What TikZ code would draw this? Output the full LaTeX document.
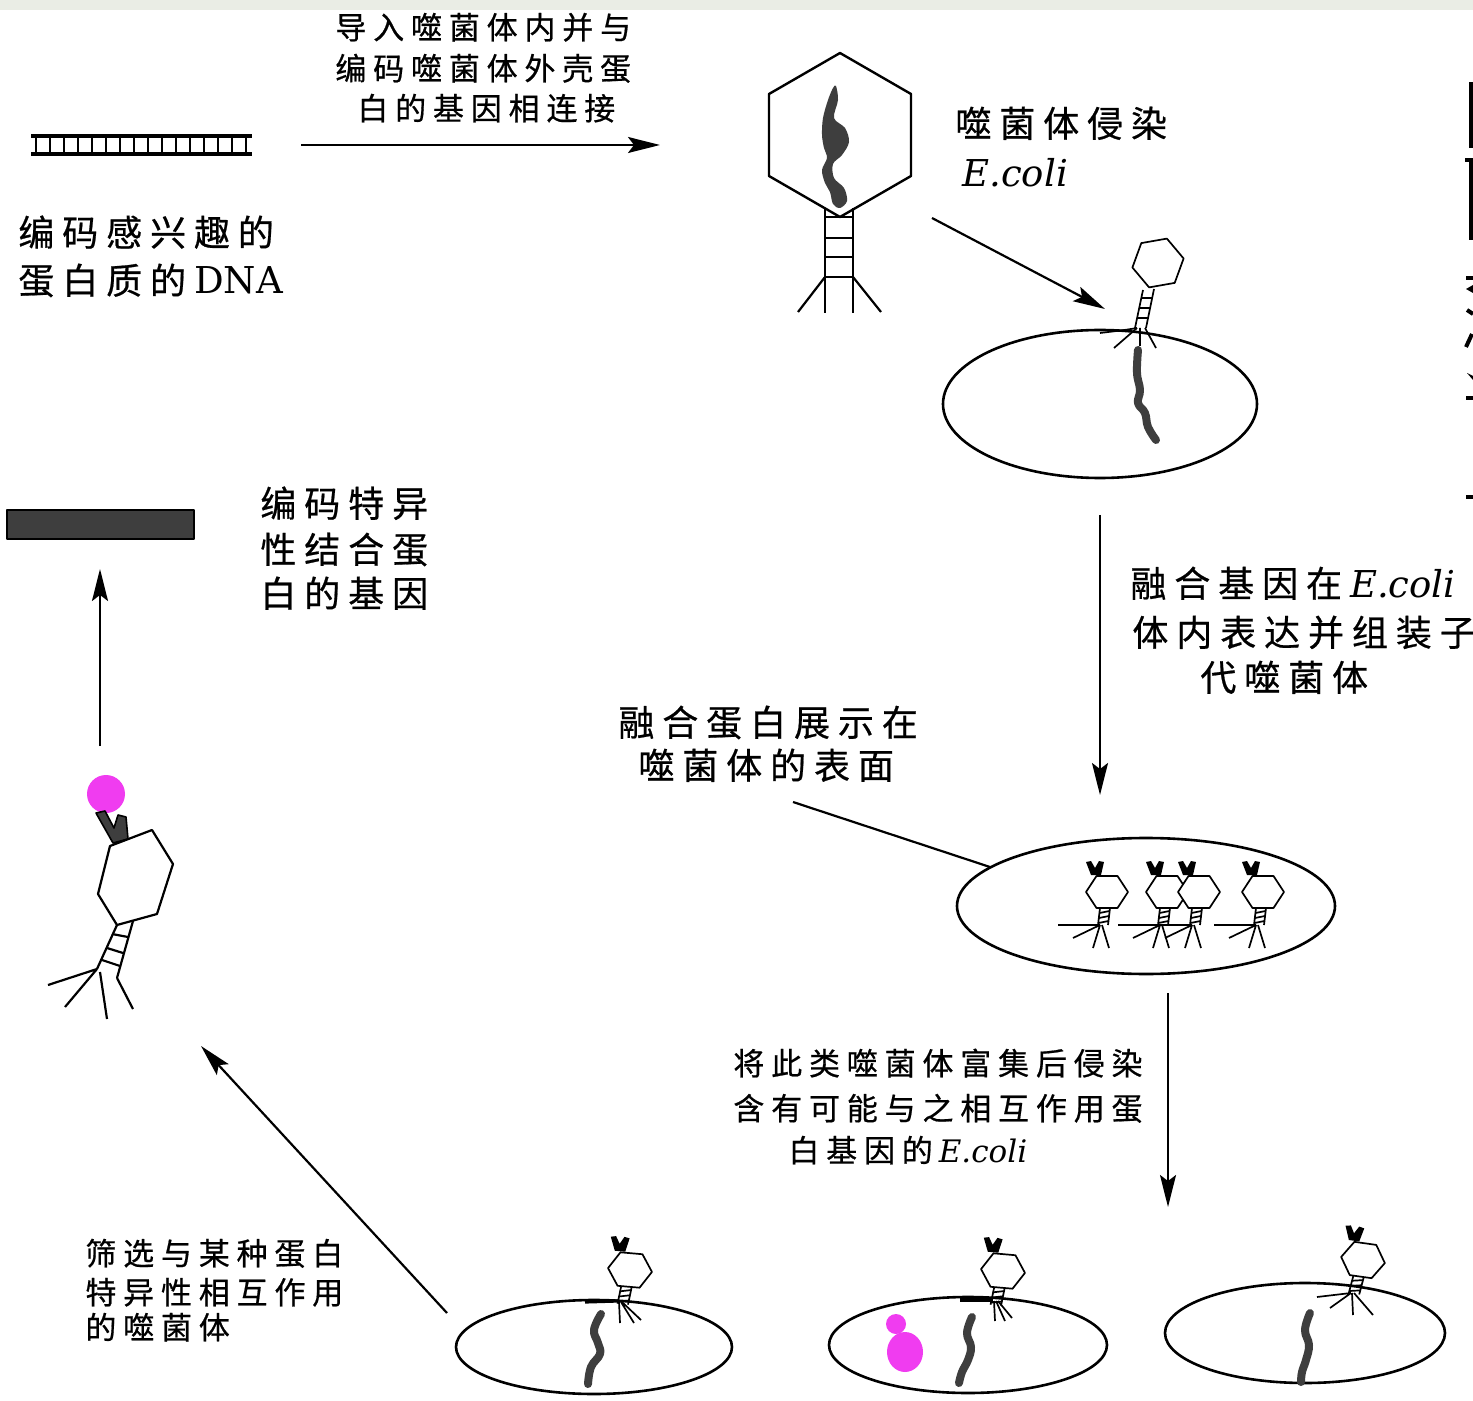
\documentclass[tikz,border=0pt]{standalone}
\usepackage{fontspec}
\setmainfont{DejaVu Serif}
\newfontfamily\cjk{Noto Sans CJK SC}[LetterSpace=22,FakeBold=0.6]
\usetikzlibrary{arrows.meta}
\definecolor{dnagray}{RGB}{62,62,62}
\definecolor{bindpink}{RGB}{240,60,240}
\definecolor{bandgray}{RGB}{234,237,229}
\newcommand\Ecoli{{\rmfamily\itshape E.coli}}

\tikzset{
  pics/phage/.style={code={
    \draw[phthin, fill=white] (21,0) -- (10.5,16) -- (-10.5,16) -- (-21,0) -- (-10.5,-16) -- (10.5,-16) -- cycle;
    \draw[phthin] (-7,16) -- (-9,33) (3,16) -- (1,33);
    \draw[phthin] (-7.5,21) -- (2.5,19) (-8,26) -- (2,24) (-8.5,31) -- (1.5,29);
    \fill[black] (-21,-30) -- (-16,-31) -- (-12,-24) -- (-8,-31) -- (-3,-30) -- (-6,-17) -- (-16,-17) -- cycle;
  }},
  pics/legs/.style={code={
    \draw[phthin] (-7,33) -- (-49,33) (-7,33) -- (-34,46) (-7,33) -- (-14,56) (-5,33) -- (2,56);
  }}
}

\begin{document}
\begin{tikzpicture}[x=0.5pt,y=-0.5pt,line join=round,
  ph/.style={draw=black,line width=1.1pt},
  phthin/.style={draw=black,line width=0.85pt},
  cell/.style={draw=black,line width=1.3pt},
  flow/.style={draw=black,line width=1.1pt,-{Stealth[length=16pt,width=8pt,inset=3pt]}},
  dnaline/.style={draw=dnagray,line width=4pt,line cap=round},
  labA/.style={anchor=base west,inner sep=0pt,font=\cjk\fontsize{18}{22}\selectfont},
  labB/.style={anchor=base west,inner sep=0pt,font=\cjk\fontsize{15.5}{19}\selectfont},
  frag/.style={draw=black,line width=2pt}]

\useasboundingbox (0,0) rectangle (1473,1401);
\fill[white] (0,0) rectangle (1473,1401);
% textured strip along the top edge
\fill[bandgray] (0,0) rectangle (1473,10);

% ---------- named anchor points ----------
\coordinate (dnaR) at (301,145);
\coordinate (phageL) at (660,145);
\coordinate (infS) at (932,218);
\coordinate (infE) at (1105,309);
\coordinate (cell1S) at (1100,515);
\coordinate (cell2N) at (1100,795);
\coordinate (tagS) at (793,802);
\coordinate (cell2W) at (990,867);
\coordinate (cell2S) at (1168,993);
\coordinate (rowN) at (1168,1207);
\coordinate (cell3W) at (447,1313);
\coordinate (boundE) at (201,1046);
\coordinate (boundN) at (100,746);
\coordinate (geneS) at (100,569);

% ---------- DNA ladder ----------
\draw[line width=2pt] (31,136) -- (252,136) (31,154) -- (252,154);
\foreach \i in {0,...,15} \draw[line width=1.2pt] ({36+\i*14},136) -- ({36+\i*14},154);

% ---------- large phage ----------
\draw[ph,line width=1.2pt] (840,53) -- (911,94) -- (911,176) -- (840,217) -- (769,176) -- (769,94) -- cycle;
\fill[dnagray] plot[smooth cycle,tension=0.55] coordinates {(836,86) (838,100) (834,118) (845,128) (849,142) (842,155) (833,164) (834,178) (844,188) (847,201) (840,208) (833,204) (830,192) (825,183) (822,170) (827,158) (824,148) (822,135) (823,118) (828,100) (833,88)};
\draw[ph] (825,208) -- (825,313) (853,208) -- (853,313);
\draw[ph] (825,217) -- (853,217) (825,238) -- (853,238) (825,257) -- (853,257) (825,277) -- (853,277);
\draw[ph] (825,277) -- (798,312) (853,277) -- (881,312);

% ---------- cell 1 with infecting phage ----------
\draw[cell] (1100,404) ellipse [x radius=157, y radius=74];
\draw[dnaline] plot[smooth,tension=0.7] coordinates {(1138,350) (1137,373) (1140,390) (1138,403) (1145,413) (1148,427) (1156,440)};
\draw[phthin,fill=white] (1183.6,258.5) -- (1166.9,238.6) -- (1141.3,243.1) -- (1132.4,267.5) -- (1149.1,287.4) -- (1174.7,282.9) -- cycle;
\draw[phthin] (1143,290) -- (1135,328) (1154,289) -- (1146,328);
\draw[phthin] (1142,298) -- (1152,298) (1140,308) -- (1150,308) (1138,318) -- (1148,318);
\draw[phthin] (1137,328) .. controls (1125,330) .. (1100,333);
\draw[phthin] (1137,328) -- (1114,348) (1140,328) -- (1140,346) (1145,328) -- (1156,348);

% ---------- cell 2 with progeny phages ----------
\draw[cell] (1146,906) ellipse [x radius=189, y radius=68];
\foreach \px in {1107,1167,1199,1263} {
  \pic at (\px,892) {phage};
  \pic at (\px,892) {legs};
}

% ---------- bottom row of cells ----------
\draw[cell] (594,1347) ellipse [x radius=138, y radius=47];
\draw[cell] (968,1345) ellipse [x radius=139, y radius=48];
\draw[cell] (1305,1333) ellipse [x radius=140, y radius=50];

\draw[dnaline] plot[smooth,tension=0.7] coordinates {(601,1314) (594,1330) (598,1343) (600,1354) (591,1367) (588,1384)};
\draw[dnaline] plot[smooth,tension=0.7] coordinates {(972,1317) (967,1333) (971,1347) (968,1360) (962,1372) (959,1383)};
\draw[dnaline] plot[smooth,tension=0.7] coordinates {(1310,1313) (1305,1330) (1309,1345) (1306,1360) (1302,1372) (1301,1382)};

\pic[rotate=-5,scale=1.05] at (630,1270) {phage};
\draw[phthin,line width=1.6pt] (618,1301) -- (585,1302);
\draw[phthin] (619,1302) -- (620,1323) (621,1302) -- (634,1323) (622,1302) -- (641,1320);

\pic[rotate=-5,scale=1.05] at (1003,1271) {phage};
\draw[phthin,line width=1.6pt] (993,1300) -- (960,1300);
\draw[phthin] (994,1301) -- (995,1321) (996,1301) -- (1005,1321) (998,1301) -- (1012,1318);

\pic[rotate=-8,scale=1.05] at (1363,1260) {phage};
\draw[phthin] (1351,1293) -- (1317,1297) (1351,1293) -- (1330,1308) (1352,1293) -- (1353,1315) (1354,1293) -- (1373,1315);

% bound partner inside the middle cell
\fill[bindpink] (896,1324) circle [radius=10];
\fill[bindpink] (905,1352) ellipse [x radius=18, y radius=20];

% ---------- selected phage with bound protein ----------
\fill[bindpink] (106,794) circle [radius=19];
\draw[fill=dnagray,line width=0.8pt] (96,813) -- (105,811) -- (114,828) -- (118,815) -- (126,817) -- (128,839) -- (113,843) -- cycle;
\draw[ph,fill=white] (152,830) -- (173,864) -- (157,914) -- (117,925) -- (98,894) -- (110,846) -- cycle;
\draw[ph] (117,925) -- (97,969) (133,921) -- (117,978);
\draw[ph] (112,934) -- (128,937) (107,948) -- (123,953) (102,960) -- (120,966);
\draw[ph] (97,969) -- (48,985) (97,969) -- (65,1007) (100,972) -- (107,1019) (117,978) -- (133,1009);

% ---------- gene for the binding protein ----------
\draw[fill=dnagray,line width=0.8pt] (7,510) rectangle (194,539);

% ---------- flow arrows ----------
\draw[flow] (dnaR) -- (phageL);
\draw[flow] (infS) -- (infE);
\draw[flow] (cell1S) -- (cell2N);
\draw[line width=1.1pt] (tagS) -- (cell2W);
\draw[flow] (cell2S) -- (rowN);
\draw[flow] (cell3W) -- (boundE);
\draw[flow] (boundN) -- (geneS);

% ---------- labels ----------
\node[labB] (t1a) at (335,39) {导入噬菌体内并与};
\node[labB] (t1b) at (335,80) {编码噬菌体外壳蛋};
\node[labB] (t1c) at (357,120) {白的基因相连接};

\node[labA] (t2a) at (18,246) {编码感兴趣的};
\node[labA] (t2b) at (18,294) {蛋白质的\hspace{4pt}{\rmfamily\fontsize{18.5}{22}\selectfont DNA}};

\node[labA] (t3a) at (955,137) {噬菌体侵染};
\node[anchor=base west,inner sep=0pt,font=\fontsize{18.5}{22}\selectfont] (t3b) at (962,187) {\Ecoli};

\node[labA] (t4a) at (260,517) {编码特异};
\node[labA] (t4b) at (260,563) {性结合蛋};
\node[labA] (t4c) at (260,607) {白的基因};

\node[labA] (t5a) at (1130,597) {融合基因在\hspace{4pt}{\fontsize{18.5}{22}\selectfont\Ecoli}};
\node[labA] (t5b) at (1132,646) {体内表达并组装子};
\node[labA] (t5c) at (1200,691) {代噬菌体};

\node[labA] (t6a) at (618,736) {融合蛋白展示在};
\node[labA] (t6b) at (638,779) {噬菌体的表面};

\node[labB] (t7a) at (733,1075) {将此类噬菌体富集后侵染};
\node[labB] (t7b) at (733,1120) {含有可能与之相互作用蛋};
\node[labB] (t7c) at (788,1162) {白基因的\hspace{3pt}{\fontsize{15.5}{19}\selectfont\Ecoli}};

\node[labB] (t8a) at (85,1265) {筛选与某种蛋白};
\node[labB] (t8b) at (85,1304) {特异性相互作用};
\node[labB] (t8c) at (85,1339) {的噬菌体};

% ---------- strokes of lettering cut off at the right edge ----------
\fill[black] (1469,82) rectangle (1473,148);
\draw[frag] (1465,160) -- (1473,160) (1471,162) -- (1471,240);
\draw[frag] (1466,278) -- (1473,278);
\fill[black] (1466,289) -- (1473,285) -- (1473,293) -- cycle;
\draw[frag] (1467,310) -- (1473,314);
\draw[frag] (1466,347) -- (1472,334);
\fill[black] (1467,373) -- (1473,376) -- (1473,380) -- cycle;
\draw[frag] (1466,398) -- (1473,398);
\draw[frag] (1466,497) -- (1473,497);
\end{tikzpicture}
\end{document}
